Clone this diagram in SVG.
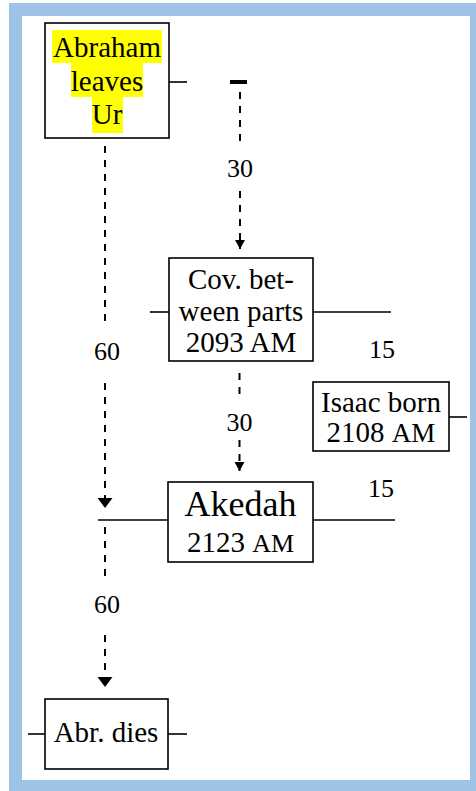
<svg xmlns="http://www.w3.org/2000/svg" width="476" height="791" viewBox="0 0 476 791">
<defs>
<style>
.box{fill:#fff;stroke:#000;stroke-width:1.6}
.ln{stroke:#000;stroke-width:1.6;fill:none}
.dash{stroke:#000;stroke-width:2;fill:none;stroke-dasharray:7 7}
text{font-family:'Liberation Serif','Times New Roman',Tinos,'DejaVu Serif',serif;fill:#000;text-anchor:middle}
.t{font-size:29px}
.lab{font-size:26px}
.big{font-size:36px}
.mid{font-size:29px}
.am{font-size:26px}
.am2{font-size:27px}
.hl{fill:#ffff00}
</style>
<marker id="arS" markerUnits="userSpaceOnUse" markerWidth="12" markerHeight="12" refX="9" refY="5" orient="auto"><path d="M0,0 L9,5 L0,10 z" fill="#000"/></marker>
<marker id="arL" markerUnits="userSpaceOnUse" markerWidth="12" markerHeight="16" refX="10" refY="7.5" orient="auto"><path d="M0,0 L10,7.5 L0,15 z" fill="#000"/></marker>
</defs>
<rect x="9" y="3" width="467" height="788" fill="#9dc3e6"/>
<rect x="22" y="16" width="448" height="764" fill="#fff"/>

<g id="connectors">
<line class="ln" x1="169" y1="82" x2="187" y2="82"/>
<rect x="230" y="80" width="17" height="4" fill="#000"/>
<line class="dash" x1="240" y1="92" x2="240" y2="142"/>
<line class="dash" x1="240" y1="191" x2="240" y2="249" marker-end="url(#arS)"/>
<text class="lab" x="240" y="177">30</text>
<line class="ln" x1="150" y1="312" x2="169" y2="312"/>
<line class="ln" x1="313" y1="312" x2="391" y2="312"/>
<text class="lab" x="382" y="358">15</text>
<line class="dash" x1="239.5" y1="373" x2="239.5" y2="398"/>
<text class="lab" x="239.5" y="431">30</text>
<line class="dash" x1="239.5" y1="440" x2="239.5" y2="471" marker-end="url(#arS)"/>
<line class="ln" x1="449" y1="417" x2="467" y2="417"/>
<text class="lab" x="381" y="497">15</text>
<line class="ln" x1="98" y1="520" x2="168" y2="520"/>
<line class="ln" x1="313" y1="520" x2="395" y2="520"/>
<line class="dash" x1="105" y1="146" x2="105" y2="325"/>
<text class="lab" x="107" y="360">60</text>
<line class="dash" x1="105" y1="383" x2="105" y2="508" marker-end="url(#arL)"/>
<line class="dash" x1="105" y1="527" x2="105" y2="582"/>
<text class="lab" x="107" y="613">60</text>
<line class="dash" x1="105" y1="635" x2="105" y2="687" marker-end="url(#arL)"/>
<line class="ln" x1="28" y1="734" x2="45" y2="734"/>
<line class="ln" x1="168" y1="734" x2="187" y2="734"/>
</g>

<g id="abraham">
<rect class="box" x="45" y="23" width="124" height="115"/>
<rect class="hl" x="52" y="30" width="110" height="33"/>
<rect class="hl" x="71" y="63" width="72" height="34"/>
<rect class="hl" x="92" y="97" width="31" height="36"/>
<text class="t" x="107" y="57">Abraham</text>
<text class="t" x="107" y="91">leaves</text>
<text class="t" x="107" y="124">Ur</text>
</g>

<g id="covenant">
<rect class="box" x="169" y="258" width="144" height="103"/>
<text class="t" x="241" y="289">Cov. bet-</text>
<text class="t" x="241" y="321">ween parts</text>
<text class="t" x="241" y="352">2093 AM</text>
</g>

<g id="isaac">
<rect class="box" x="313" y="382" width="136" height="69"/>
<text class="t" x="381" y="412">Isaac born</text>
<text class="t" x="381" y="442">2108 <tspan class="am2">AM</tspan></text>
</g>

<g id="akedah">
<rect class="box" x="168" y="482" width="145" height="80"/>
<text class="big" x="240.5" y="516">Akedah</text>
<text class="mid" x="240.5" y="552">2123 <tspan class="am">AM</tspan></text>
</g>

<g id="abr-dies">
<rect class="box" x="45" y="699" width="123" height="70"/>
<text class="t" x="106" y="742">Abr. dies</text>
</g>
</svg>
